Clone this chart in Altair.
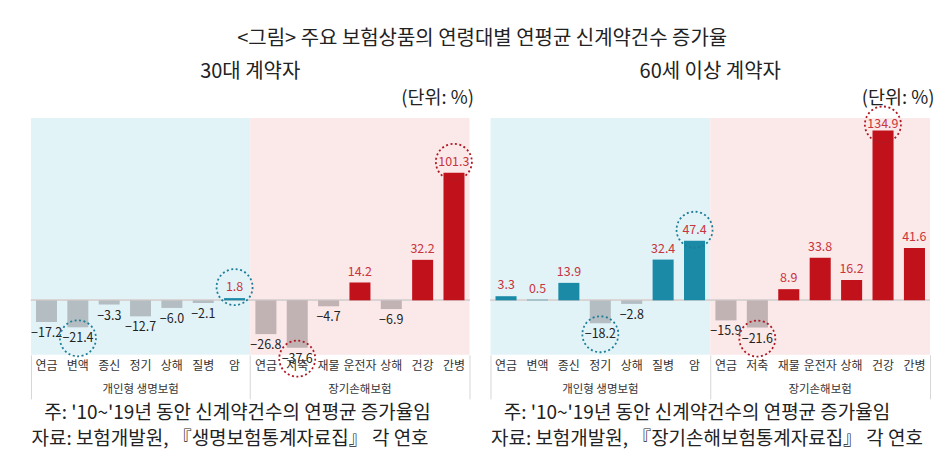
import altair as alt
import pandas as pd

FONT = "Noto Sans CJK KR"

life_cats = ["연금", "변액", "종신", "정기", "상해", "질병", "암"]
nonlife_cats = ["연금", "저축", "재물", "운전자", "상해", "건강", "간병"]

p30_life = [-17.2, -21.4, -3.3, -12.7, -6.0, -2.1, 1.8]
p30_nonlife = [-26.8, -37.6, -4.7, 14.2, -6.9, 32.2, 101.3]
p60_life = [3.3, 0.5, 13.9, -18.2, -2.8, 32.4, 47.4]
p60_nonlife = [-15.9, -21.6, 8.9, 33.8, 16.2, 134.9, 41.6]

p30_life_hl = ["변액", "암"]
p30_nonlife_hl = ["저축", "간병"]
p60_life_hl = ["정기", "암"]
p60_nonlife_hl = ["저축", "건강"]

group_names = ["개인형 생명보험", "장기손해보험"]
main_title = "<그림> 주요 보험상품의 연령대별 연평균 신계약건수 증가율"
panel_titles = ["30대 계약자", "60세 이상 계약자"]
unit_text = "(단위: %)"
INDENT = "\u200b\u00a0\u00a0\u00a0"
notes_30 = [INDENT + "주: '10~'19년 동안 신계약건수의 연평균 증가율임",
            "자료: 보험개발원, 『생명보험통계자료집』 각 연호"]
notes_60 = [INDENT + "주: '10~'19년 동안 신계약건수의 연평균 증가율임",
            "자료: 보험개발원, 『장기손해보험통계자료집』 각 연호"]

STYLE = {
    "life": {"bg": "#e2f3f8", "pos": "#1a8aa7", "neg": "#b3bdc2", "circle": "#1f7e98"},
    "nonlife": {"bg": "#fbe8e9", "pos": "#c1111b", "neg": "#c1b2b4", "circle": "#b01a24"},
}
POS_LABEL = "#c8353c"
NEG_LABEL = "#222222"
TEXT = "#222222"
Y_DOMAIN = [-43.3, 144.8]
LABEL_CAP = 131  # keep the tallest label inside the plot, as in the original
PLOT_H = 237
LABEL_GAP = 11


def side(life_vals, life_hl, non_vals, non_hl, head, notes, width):
    keys = [f"{group_names[0]}|{c}" for c in life_cats] + \
           [f"{group_names[1]}|{c}" for c in nonlife_cats]
    vals = list(life_vals) + list(non_vals)
    kinds = ["life"] * len(life_cats) + ["nonlife"] * len(nonlife_cats)
    hls = ["Y" if c in life_hl else "N" for c in life_cats] + \
          ["Y" if c in non_hl else "N" for c in nonlife_cats]
    df = pd.DataFrame({"key": keys, "val": vals, "kind": kinds, "hl": hls})
    df["label"] = [f"{v:.1f}".replace("-", "−") for v in vals]
    df["barcolor"] = [STYLE[k]["pos"] if v >= 0 else STYLE[k]["neg"] for k, v in zip(kinds, vals)]
    df["circcolor"] = [STYLE[k]["circle"] for k in kinds]
    gdf = pd.DataFrame({"group": group_names})

    bg = alt.Chart(gdf).mark_rect().encode(
        x=alt.X(
            "group:N", sort=group_names,
            scale=alt.Scale(domain=group_names, paddingInner=0, paddingOuter=0),
            axis=alt.Axis(
                orient="bottom", domain=False, ticks=True, tickExtra=True,
                bandPosition=1, tickSize=44, tickColor="#d6d6d6", tickWidth=1,
                labelAngle=0,
                labelPadding=-15, labelFont=FONT, labelFontSize=11.5, labelColor="#333333",
                title=notes, titleAnchor="start", titleFont=FONT, titleFontSize=19,
                titleFontWeight="normal", titleLineHeight=26, titlePadding=4,
                titleColor=TEXT,
            ),
        ),
        color=alt.Color("group:N", scale=alt.Scale(
            domain=group_names, range=[STYLE["life"]["bg"], STYLE["nonlife"]["bg"]]), legend=None),
    )

    xs = alt.Scale(domain=keys, paddingInner=0.33, paddingOuter=0.16)
    x_axis = alt.X(
        "key:N", scale=xs,
        axis=alt.Axis(
            orient="bottom", labelExpr="split(datum.label, '|')[1]",
            domain=False, ticks=False, labelAngle=0, labelPadding=6,
            labelFont=FONT, labelFontSize=12, labelColor="#333333", title=None,
        ),
    )
    x_plain = alt.X("key:N", scale=xs, axis=None)
    y_scale = alt.Scale(domain=Y_DOMAIN, nice=False, zero=True)
    unit_axis = alt.Axis(
        title=unit_text, labels=False, ticks=False, domain=False, grid=False,
        titleAngle=0, titleAlign="right", titleBaseline="bottom",
        titleX=width + 4, titleY=-11, titleFont=FONT, titleFontSize=18.5,
        titleFontWeight="normal", titleColor=TEXT,
    )
    y = alt.Y("val:Q", scale=y_scale, axis=unit_axis)
    y_lab = alt.Y("laby:Q", scale=y_scale, axis=unit_axis)

    base = alt.Chart(df).transform_calculate(laby=f"min(datum.val, {LABEL_CAP})")
    zero = alt.Chart(df).mark_rule(color="#d9d4d4", strokeWidth=1).encode(y=alt.datum(0))
    bars = alt.Chart(df).mark_bar().encode(
        x=x_axis, y=y, color=alt.Color("barcolor:N", scale=None)
    )
    pos_lab = base.transform_filter("datum.val >= 0").mark_text(
        dy=-LABEL_GAP, fontSize=12.5, font=FONT, color=POS_LABEL
    ).encode(x=x_plain, y=y_lab, text="label:N")
    neg_lab = base.transform_filter("datum.val < 0").mark_text(
        dy=LABEL_GAP, fontSize=12.5, font=FONT, color=NEG_LABEL
    ).encode(x=x_plain, y=y_lab, text="label:N")
    pos_circ = base.transform_filter("datum.hl == 'Y' && datum.val >= 0").mark_point(
        shape="circle", size=1300, filled=False, strokeDash=[2, 2.5],
        strokeWidth=1.8, opacity=1, yOffset=-LABEL_GAP
    ).encode(x=x_plain, y=y_lab, color=alt.Color("circcolor:N", scale=None))
    neg_circ = base.transform_filter("datum.hl == 'Y' && datum.val < 0").mark_point(
        shape="circle", size=1300, filled=False, strokeDash=[2, 2.5],
        strokeWidth=1.8, opacity=1, yOffset=LABEL_GAP
    ).encode(x=x_plain, y=y_lab, color=alt.Color("circcolor:N", scale=None))

    return alt.layer(bg, zero, bars, pos_lab, neg_lab, pos_circ, neg_circ).resolve_scale(
        x="independent", color="independent"
    ).resolve_axis(x="independent").properties(
        width=width, height=PLOT_H,
        title=alt.TitleParams(
            head, anchor="middle", font=FONT, fontSize=20,
            fontWeight="normal", color=TEXT, offset=6,
        ),
    )


left = side(p30_life, p30_life_hl, p30_nonlife, p30_nonlife_hl, panel_titles[0], notes_30, 439)
right = side(p60_life, p60_life_hl, p60_nonlife, p60_nonlife_hl, panel_titles[1], notes_60, 440)

chart = alt.hconcat(left, right, spacing=14).properties(
    title=alt.TitleParams(
        main_title, anchor="middle", font=FONT, fontSize=20,
        fontWeight="normal", color=TEXT, offset=13,
    ),
    padding={"left": 22, "top": 21, "right": 0, "bottom": 0},
    background="white",
).configure_view(stroke=None)

chart.save("out.html", embed_options={"renderer": "svg", "actions": False})
